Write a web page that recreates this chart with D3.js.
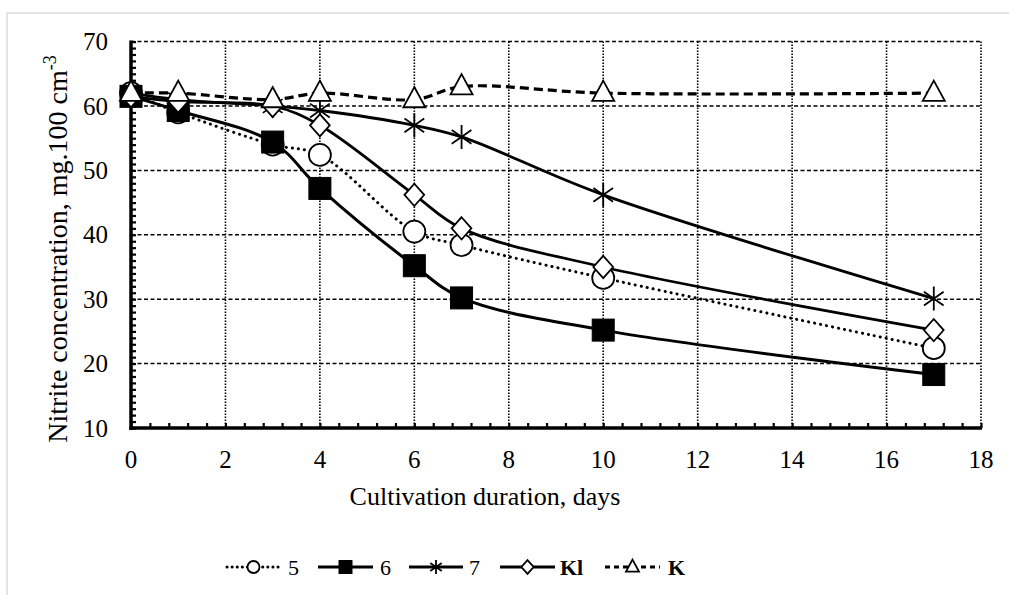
<!DOCTYPE html>
<html>
<head>
<meta charset="utf-8">
<script src="https://cdn.jsdelivr.net/npm/d3@7"></script>
<style>
  html, body { margin: 0; padding: 0; background: #fff; }
  svg { display: block; }
  text { font-family: "Liberation Serif", "Times New Roman", serif; fill: #000; }
</style>
</head>
<body>
<svg id="chart" width="1009" height="595"></svg>
<script>
// ---- data ----
const days = [0, 1, 3, 4, 6, 7, 10, 17];
const s5  = [62, 59, 54, 52.4, 40.5, 38.4, 33.3, 22.4];
const s6  = [61.5, 59.3, 54.4, 47.2, 35.2, 30.2, 25.2, 18.3];
const s7  = [62, 61, 60, 59.3, 57, 55.2, 46.2, 30.1];
const sKl = [61.5, 60.7, 60, 57, 46.2, 41, 35, 25.2];
const sK  = [62, 62, 61, 62, 61, 63, 62, 62];
const seriesNames = ["5", "6", "7", "Kl", "K"];
const xTicks = [0, 2, 4, 6, 8, 10, 12, 14, 16, 18];
const yTicks = [10, 20, 30, 40, 50, 60, 70];

(function () {
const svg = d3.select("#chart");
const W = 1009, H = 595;
const pL = 131, pR = 981, pT = 41.6, pB = 428;

const x = d3.scaleLinear().domain([0, 18]).range([pL, pR]);
const y = d3.scaleLinear().domain([10, 70]).range([pB, pT]);

// outer light frame
svg.append("line").attr("x1", 7).attr("x2", W).attr("y1", 13).attr("y2", 13)
  .attr("stroke", "#d9d9d9").attr("stroke-width", 1.5);
svg.append("line").attr("x1", 7).attr("x2", 7).attr("y1", 13).attr("y2", H)
  .attr("stroke", "#d9d9d9").attr("stroke-width", 1.5);

// gridlines
const grid = svg.append("g");
grid.append("g").selectAll("line").data(yTicks.filter(d => d > 10)).join("line")
  .attr("x1", pL).attr("x2", pR)
  .attr("y1", d => y(d)).attr("y2", d => y(d))
  .attr("stroke", "#000").attr("stroke-width", 1.5)
  .attr("stroke-dasharray", "4,2.5");
grid.append("g").selectAll("line").data(xTicks.filter(d => d > 0)).join("line")
  .attr("x1", d => x(d)).attr("x2", d => x(d))
  .attr("y1", pT).attr("y2", pB)
  .attr("stroke", "#000").attr("stroke-width", 1.6)
  .attr("stroke-dasharray", "1.5,1.5");

// axes (minor ticks inward)
const yMinor = d3.range(10, 70.01, 1);
const xMinor = d3.range(0, 18.01, 0.4);
const yAxis = d3.axisRight(y).tickValues(yMinor).tickSize(5).tickFormat("");
const xAxis = d3.axisTop(x).tickValues(xMinor).tickSize(5).tickFormat("");
const gy = svg.append("g").attr("transform", `translate(${pL},0)`).call(yAxis);
const gx = svg.append("g").attr("transform", `translate(0,${pB})`).call(xAxis);
[gy, gx].forEach(g => {
  g.select(".domain").remove();
  g.selectAll(".tick line").attr("stroke", "#000").attr("stroke-width", 2.2);
});
svg.append("line").attr("x1", pL).attr("x2", pL).attr("y1", pT - 1).attr("y2", pB + 2)
  .attr("stroke", "#000").attr("stroke-width", 3.5);
svg.append("line").attr("x1", pL - 1.5).attr("x2", pR + 1).attr("y1", pB).attr("y2", pB)
  .attr("stroke", "#000").attr("stroke-width", 3.5);

// tick labels
svg.append("g").selectAll("text").data(yTicks).join("text")
  .attr("x", 108).attr("y", d => y(d) + 8.5)
  .attr("text-anchor", "end").attr("font-size", 25).text(d => d);
svg.append("g").selectAll("text").data(xTicks).join("text")
  .attr("x", d => x(d)).attr("y", 468)
  .attr("text-anchor", "middle").attr("font-size", 25).text(d => d);

// axis titles
svg.append("text").attr("x", 485).attr("y", 505)
  .attr("text-anchor", "middle").attr("font-size", 26)
  .text("Cultivation duration, days");
const yt = svg.append("text")
  .attr("transform", "translate(67,249) rotate(-90)")
  .attr("text-anchor", "middle").attr("font-size", 28);
yt.append("tspan").text("Nitrite concentration, mg.100 cm");
yt.append("tspan").attr("dy", -11).attr("font-size", 18).text("-3");

// markers
function drawMarker(g, type, cx, cy, s) {
  const sw = 1.8;
  if (type === "circle") {
    g.append("circle").attr("cx", cx).attr("cy", cy).attr("r", s / 2)
      .attr("fill", "#fff").attr("stroke", "#000").attr("stroke-width", sw);
  } else if (type === "square") {
    g.append("rect").attr("x", cx - s / 2).attr("y", cy - s / 2).attr("width", s).attr("height", s)
      .attr("fill", "#000").attr("stroke", "#000").attr("stroke-width", 1);
  } else if (type === "diamond") {
    const hw = s * 0.47, hh = s * 0.53;
    g.append("path").attr("d", `M${cx},${cy - hh}L${cx + hw},${cy}L${cx},${cy + hh}L${cx - hw},${cy}Z`)
      .attr("fill", "#fff").attr("stroke", "#000").attr("stroke-width", sw);
  } else if (type === "triangle") {
    const hw = s / 2, h = s * 0.92;
    g.append("path").attr("d", `M${cx},${cy - h * 0.62}L${cx + hw},${cy + h * 0.38}L${cx - hw},${cy + h * 0.38}Z`)
      .attr("fill", "#fff").attr("stroke", "#000").attr("stroke-width", sw);
  } else if (type === "star") {
    const r = s / 2;
    const a = 35 * Math.PI / 180;
    const dx = r * Math.cos(a), dy = r * Math.sin(a);
    g.append("path").attr("d",
      `M${cx},${cy - r}L${cx},${cy + r}M${cx - dx},${cy - dy}L${cx + dx},${cy + dy}M${cx - dx},${cy + dy}L${cx + dx},${cy - dy}`)
      .attr("fill", "none").attr("stroke", "#000").attr("stroke-width", sw);
  }
}

const series = [
  { name: seriesNames[0], vals: s5,  marker: "circle",   dash: "0.1,6",  width: 3,   cap: "round", size: 22, lsize: 12 },
  { name: seriesNames[1], vals: s6,  marker: "square",   dash: null,     width: 3,   cap: "butt",  size: 22, lsize: 13 },
  { name: seriesNames[2], vals: s7,  marker: "star",     dash: null,     width: 2.8, cap: "butt",  size: 24, lsize: 14 },
  { name: seriesNames[3], vals: sKl, marker: "diamond",  dash: null,     width: 2.8, cap: "butt",  size: 21, lsize: 13 },
  { name: seriesNames[4], vals: sK,  marker: "triangle", dash: "9,5",    width: 3.2, cap: "butt",  size: 22, lsize: 13 }
];

const line = d3.line().x(d => x(d[0])).y(d => y(d[1])).curve(d3.curveCatmullRom.alpha(0.5));

series.forEach(s => {
  const g = svg.append("g");
  const pts = days.map((d, i) => [d, s.vals[i]]);
  g.append("path").attr("d", line(pts)).attr("fill", "none")
    .attr("stroke", "#000").attr("stroke-width", s.width)
    .attr("stroke-linecap", s.cap)
    .attr("stroke-dasharray", s.dash);
  pts.forEach(p => drawMarker(g, s.marker, x(p[0]), y(p[1]), s.size));
});

// legend
const legY = 567;
const legItems = [
  { x0: 227, x1: 280, tx: 288 },
  { x0: 318, x1: 373, tx: 380 },
  { x0: 409, x1: 463, tx: 469 },
  { x0: 500, x1: 555, tx: 560 },
  { x0: 605, x1: 660, tx: 668 }
];
series.forEach((s, i) => {
  const it = legItems[i];
  const g = svg.append("g");
  g.append("line").attr("x1", it.x0).attr("x2", it.x1).attr("y1", legY).attr("y2", legY)
    .attr("stroke", "#000").attr("stroke-width", s.width)
    .attr("stroke-linecap", s.cap)
    .attr("stroke-dasharray", s.dash === "9,5" ? "5,4" : (s.dash ? "0.1,5" : null));
  drawMarker(g, s.marker, (it.x0 + it.x1) / 2, legY, s.lsize);
  g.append("text").attr("x", it.tx).attr("y", legY + 8)
    .attr("font-size", 22)
    .attr("font-weight", (s.name === "Kl" || s.name === "K") ? "bold" : "normal")
    .text(s.name);
});
})();
</script>
</body>
</html>
